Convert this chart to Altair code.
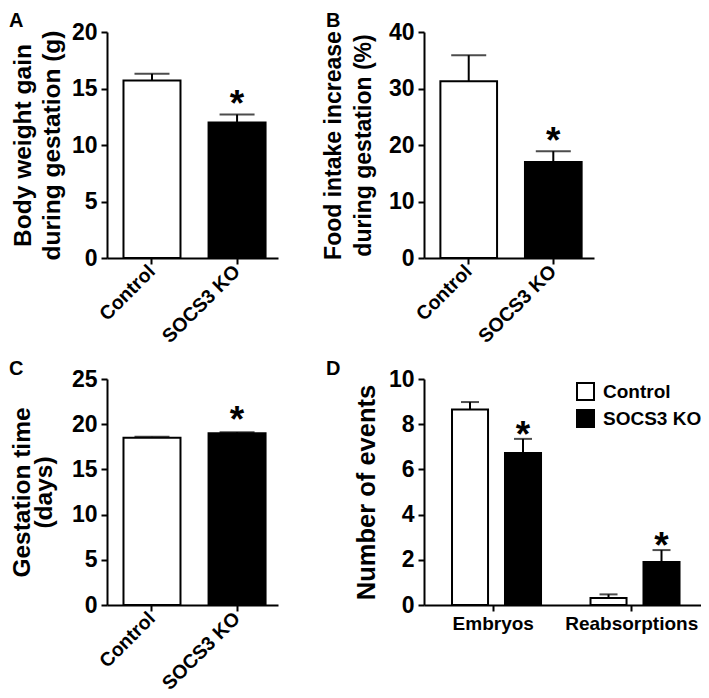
import altair as alt
import pandas as pd

FONT = "Liberation Sans"

panel_letters = ["A", "B", "C", "D"]
groups = ["Control", "SOCS3 KO"]
sig_simple = ["", "*"]

gain_mean = [15.7, 12.0]
gain_err = [16.3, 12.7]
gain_ticks = [0, 5, 10, 15, 20]
gain_title = ["Body weight gain", "during gestation (g)"]

food_mean = [31.3, 17.0]
food_err = [35.9, 18.9]
food_ticks = [0, 10, 20, 30, 40]
food_title = ["Food intake increase", "during gestation (%)"]

gest_mean = [18.5, 19.0]
gest_err = [18.6, 19.1]
gest_ticks = [0, 5, 10, 15, 20, 25]
gest_title = ["Gestation time", "(days)"]

event_types = ["Embryos", "Embryos", "Reabsorptions", "Reabsorptions"]
event_groups = ["Control", "SOCS3 KO", "Control", "SOCS3 KO"]
event_mean = [8.65, 6.73, 0.31, 1.9]
event_err = [8.98, 7.35, 0.47, 2.43]
sig_events = ["", "*", "", "*"]
event_ticks = [0, 2, 4, 6, 8, 10]
event_title = "Number of events"
event_cats = ["Embryos", "Reabsorptions"]

fill_scale = alt.Scale(domain=groups, range=["white", "black"])

AX = dict(domainColor="black", domainWidth=2, tickColor="black", tickWidth=2,
          tickSize=6, labelFont=FONT, labelFontWeight="bold", labelColor="black",
          titleFont=FONT, titleFontWeight="bold", titleColor="black", grid=False)

H = 226


def frame(x1, x2, y1, y2):
    # invisible layout frame that fixes the panel's bounding box
    return alt.Chart(pd.DataFrame({"f": [0]})).mark_rect(opacity=0).encode(
        x=alt.value(x1), x2=alt.value(x2), y=alt.value(y1), y2=alt.value(y2))


def simple_panel(letter, mean, err, ticks, title, w, title_size, title_lh,
                 title_x, star_dy, letter_y, fr):
    df = pd.DataFrame({"group": groups, "mean": mean, "err": err, "sig": sig_simple})
    xsc = alt.Scale(domain=groups, paddingInner=0.33, paddingOuter=0.17, align=0.57)
    x = alt.X("group:N", scale=xsc, sort=groups,
              axis=alt.Axis(title=None, labelAngle=-45, labelAlign="right",
                            labelBaseline="middle", labelFontSize=19.5,
                            labelPadding=4, **AX))
    y = alt.Y("mean:Q", scale=alt.Scale(domain=[ticks[0], ticks[-1]], nice=False),
              axis=alt.Axis(values=ticks, title=title, titleFontSize=title_size,
                            titleLineHeight=title_lh, titleX=title_x, titleY=H / 2,
                            titleAngle=-90, titleAlign="center",
                            titleBaseline="alphabetic", labelFontSize=23,
                            labelPadding=4, **AX))
    base = alt.Chart(df)
    rule = base.mark_rule(color="black", strokeWidth=2).encode(
        x=alt.X("group:N", scale=xsc, sort=groups), y="mean:Q", y2="err:Q")
    cap = base.mark_tick(color="black", thickness=2, size=35).encode(
        x=alt.X("group:N", scale=xsc, sort=groups), y="err:Q")
    bars = base.mark_bar(stroke="black", strokeWidth=2).encode(
        x=x, y=y, fill=alt.Fill("group:N", scale=fill_scale, legend=None))
    star = base.mark_text(font=FONT, fontSize=37, fontWeight="bold", dy=star_dy,
                          baseline="alphabetic", color="black").encode(
        x=alt.X("group:N", scale=xsc, sort=groups), y="err:Q", text="sig:N")
    lab = alt.Chart(pd.DataFrame({"t": [letter]})).mark_text(
        font=FONT, fontSize=20, fontWeight="bold", align="left",
        baseline="alphabetic", color="black").encode(
        x=alt.value(-98), y=alt.value(letter_y), text="t:N")
    return alt.layer(fr, rule, cap, bars, star, lab).properties(width=w, height=H)


A = simple_panel(panel_letters[0], gain_mean, gain_err, gain_ticks, gain_title,
                 171, 24.5, 29, -77, 2, -5, frame(-120, 0, -40, 0))
B = simple_panel(panel_letters[1], food_mean, food_err, food_ticks, food_title,
                 170, 23, 30, -84, 2, -5, frame(0, 10, -40, 0))
C = simple_panel(panel_letters[2], gest_mean, gest_err, gest_ticks, gest_title,
                 171, 24.5, 22, -78, 0, -4, frame(-120, 0, 0, H + 120))

# Panel D
WD = 277
dfd = pd.DataFrame({"type": event_types, "group": event_groups, "mean": event_mean,
                    "err": event_err, "sig": sig_events})
xd_scale = alt.Scale(domain=event_cats, paddingInner=0, paddingOuter=0)
xo_scale = alt.Scale(domain=groups, paddingInner=0.32, paddingOuter=0.467,
                     align=0.566)
xd = alt.X("type:N", scale=xd_scale, sort=event_cats,
           axis=alt.Axis(title=None, labelAngle=0, labelAlign="center",
                         labelBaseline="top", labelFontSize=19,
                         labelPadding=3, **AX))
yd = alt.Y("mean:Q", scale=alt.Scale(domain=[0, 10], nice=False),
           axis=alt.Axis(values=event_ticks, title=event_title, titleFontSize=25.5,
                         titleX=-50, titleY=H / 2, titleAngle=-90, titleAlign="center",
                         titleBaseline="alphabetic", labelFontSize=23,
                         labelPadding=4, **AX))
xo = alt.XOffset("group:N", scale=xo_scale, sort=groups)
based = alt.Chart(dfd)
rule_d = based.mark_rule(color="black", strokeWidth=2).encode(
    x=alt.X("type:N", scale=xd_scale, sort=event_cats), xOffset=xo,
    y="mean:Q", y2="err:Q")
cap_d = based.mark_tick(color="black", thickness=2, size=18).encode(
    x=alt.X("type:N", scale=xd_scale, sort=event_cats), xOffset=xo, y="err:Q")
bars_d = based.mark_bar(stroke="black", strokeWidth=2).encode(
    x=xd, xOffset=xo, y=yd,
    fill=alt.Fill("group:N", scale=fill_scale,
                  legend=alt.Legend(orient="none", legendX=152, legendY=3,
                                    title=None, symbolType="square",
                                    symbolSize=289, symbolStrokeColor="black",
                                    symbolStrokeWidth=2, labelFont=FONT,
                                    labelFontWeight="bold", labelFontSize=19,
                                    labelColor="black", labelOffset=8,
                                    rowPadding=2, padding=0)))
star_d = based.mark_text(font=FONT, fontSize=37, fontWeight="bold", dy=8,
                         baseline="alphabetic", color="black").encode(
    x=alt.X("type:N", scale=xd_scale, sort=event_cats), xOffset=xo,
    y="err:Q", text="sig:N")
lab_d = alt.Chart(pd.DataFrame({"t": [panel_letters[3]]})).mark_text(
    font=FONT, fontSize=20, fontWeight="bold", align="left",
    baseline="alphabetic", color="black").encode(
    x=alt.value(-98), y=alt.value(-4), text="t:N")
D = alt.layer(frame(WD, WD + 30, 0, H + 120), rule_d, cap_d, bars_d, star_d,
              lab_d).properties(width=WD, height=H)

# frame bounds: x from -120 (A) to 317 + WD + 30 (D) -> 744 wide;
# y from -40 (A) to 226+121+226+120 (C) -> 733 tall
chart = alt.concat(A, B, C, D, columns=2, spacing={"row": 121, "column": 146},
                   bounds="flush").resolve_scale(
    fill="independent").resolve_legend(fill="independent").properties(
    padding={"left": -21, "top": -16, "right": -30, "bottom": -35}).configure_view(
    stroke=None)

chart.save("out.html", embed_options={"renderer": "svg", "actions": False})
